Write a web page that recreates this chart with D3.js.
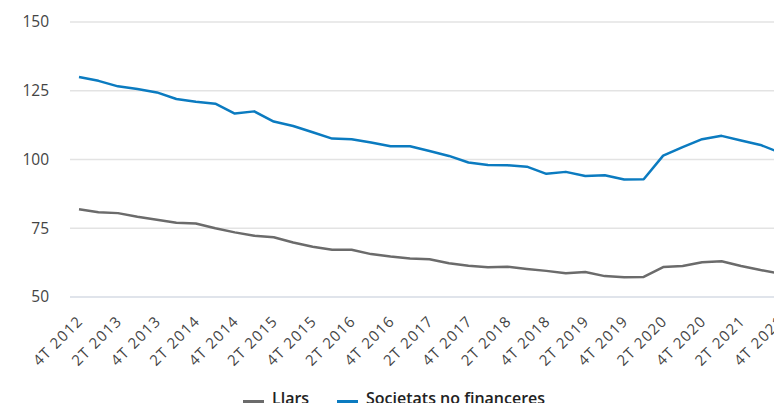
<!DOCTYPE html>
<html>
<head>
<meta charset="utf-8">
<script src="https://cdn.jsdelivr.net/npm/d3@7"></script>
<style>
  body { margin: 0; background: #fff; }
  svg { display: block; font-family: "Open Sans", sans-serif; }
</style>
</head>
<body>
<svg id="chart" width="774" height="403"></svg>
<script>
// quarters 4T 2012 .. 4T 2021
const quarters = [];
for (let y = 2012; y <= 2021; y++) {
  for (let q = 1; q <= 4; q++) {
    if (y === 2012 && q < 4) continue;
    quarters.push(q + "T " + y);
  }
}

const llars = [81.9, 80.8, 80.5, 79.2, 78.1, 77.0, 76.7, 75.0, 73.5, 72.3,
  71.7, 69.8, 68.3, 67.2, 67.2, 65.6, 64.7, 64.0, 63.7, 62.3,
  61.4, 60.8, 61.0, 60.2, 59.5, 58.6, 59.1, 57.6, 57.2, 57.3,
  60.9, 61.3, 62.6, 63.0, 61.3, 59.8, 58.5];

const societats = [130.0, 128.6, 126.6, 125.6, 124.4, 122.0, 121.0, 120.3, 116.7, 117.5,
  113.8, 112.2, 109.9, 107.6, 107.4, 106.2, 104.8, 104.8, 103.1, 101.3,
  98.9, 98.0, 97.9, 97.4, 94.8, 95.5, 94.0, 94.3, 92.7, 92.8,
  101.4, 104.5, 107.4, 108.6, 106.9, 105.3, 102.5];

const yTicks = [50, 75, 100, 125, 150];

const series = [
  { name: "Llars", values: llars, color: "#6b6b6b" },
  { name: "Societats no financeres", values: societats, color: "#0b7bc0" }
];

const svg = d3.select("#chart");

const x = d3.scalePoint().domain(quarters).range([79, 780]);
const y = d3.scaleLinear().domain([50, 150]).range([297, 22]);

// gridlines
svg.append("g")
  .selectAll("line")
  .data(yTicks)
  .enter()
  .append("line")
  .attr("x1", 70)
  .attr("x2", 774)
  .attr("y1", (d) => y(d))
  .attr("y2", (d) => y(d))
  .attr("stroke", (d) => (d === 50 ? "#d6dbe4" : "#e3e3e3"))
  .attr("stroke-width", 1.5);

// y labels
svg.append("g")
  .selectAll("text")
  .data(yTicks)
  .enter()
  .append("text")
  .attr("x", 49)
  .attr("y", (d) => y(d))
  .attr("dy", "0.35em")
  .attr("text-anchor", "end")
  .attr("font-size", 15.5)
  .attr("fill", "#444")
  .text((d) => d);

// x labels, every second quarter
const xLabels = quarters.filter((d, i) => i % 2 === 0);
svg.append("g")
  .selectAll("text")
  .data(xLabels)
  .enter()
  .append("text")
  .attr("transform", (d) => "translate(" + (x(d) + 5) + "," + 322 + ") rotate(-45)")
  .attr("text-anchor", "end")
  .attr("font-size", 15)
  .attr("letter-spacing", 1.2)
  .attr("fill", "#444")
  .text((d) => d);

// lines
const line = d3.line()
  .x((d, i) => x(quarters[i]))
  .y((d) => y(d));

svg.append("g")
  .selectAll("path")
  .data(series)
  .enter()
  .append("path")
  .attr("d", (d) => line(d.values))
  .attr("fill", "none")
  .attr("stroke", (d) => d.color)
  .attr("stroke-width", 2.5)
  .attr("stroke-linejoin", "round");

// legend
const legendX = [243, 337];
const legend = svg.append("g")
  .selectAll("g")
  .data(series)
  .enter()
  .append("g")
  .attr("transform", (d, i) => "translate(" + legendX[i] + ",0)");

legend.append("line")
  .attr("x1", 0)
  .attr("x2", 21)
  .attr("y1", 401.5)
  .attr("y2", 401.5)
  .attr("stroke", (d) => d.color)
  .attr("stroke-width", 3);

legend.append("text")
  .attr("x", 29)
  .attr("y", 404)
  .attr("font-size", 16)
  .attr("font-weight", 600)
  .attr("fill", "#222")
  .text((d) => d.name);
</script>
</body>
</html>
